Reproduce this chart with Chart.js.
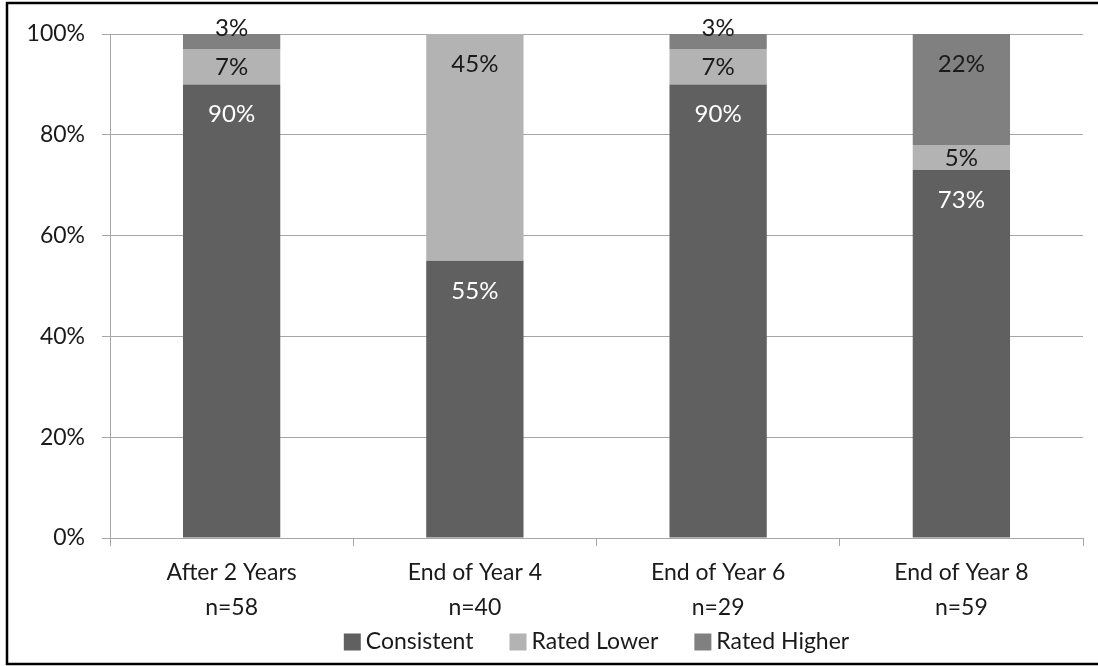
<!DOCTYPE html>
<html>
<head>
<meta charset="utf-8">
<script src="https://cdn.jsdelivr.net/npm/chart.js@4.4.1/dist/chart.umd.min.js"></script>
<style>
  html, body { margin: 0; padding: 0; background: #fff; }
  #wrap { width: 1098px; height: 666px; position: relative; }
</style>
</head>
<body>
<div id="wrap"><canvas id="chart" width="1098" height="666"></canvas></div>
<script>
// Rating consistency across review points (percent of respondents)
const categories = ['After 2 Years', 'End of Year 4', 'End of Year 6', 'End of Year 8'];
const sampleSizes = [58, 40, 29, 59];
const consistent = [90, 55, 90, 73];
const ratedLower = [7, 45, 7, 5];
const ratedHigher = [3, 0, 3, 22];
const yTicks = [0, 20, 40, 60, 80, 100];

const FONT = 'Lato, "Open Sans", sans-serif';
const TEXT = '#1a1a1a';
const GRID = '#a6a6a6';

const seriesColors = ['#606060', '#b3b3b3', '#808080'];
const labelColors = ['#ffffff', TEXT, TEXT];

// Value labels at the inner end of each stacked segment
const segmentLabels = {
  id: 'segmentLabels',
  afterDatasetsDraw(chart) {
    const ctx = chart.ctx;
    ctx.save();
    ctx.font = '24px ' + FONT;
    ctx.textAlign = 'center';
    ctx.textBaseline = 'middle';
    chart.data.datasets.forEach((ds, di) => {
      const meta = chart.getDatasetMeta(di);
      meta.data.forEach((bar, i) => {
        const v = ds.data[i];
        if (!v) return;
        const top = bar.y, base = bar.base;
        const h = base - top;
        let cy;
        if (h >= 60) cy = top + 30;
        else if (h >= 20) cy = (top + base) / 2 + 1;
        else cy = top - 6;
        ctx.fillStyle = h < 20 ? TEXT : labelColors[di];
        ctx.fillText(v + '%', bar.x, cy);
      });
    });
    ctx.restore();
  }
};

// Legend row and outer frame
const legendAndFrame = {
  id: 'legendAndFrame',
  afterDraw(chart) {
    const ctx = chart.ctx;
    ctx.save();
    ctx.font = '23px ' + FONT;
    ctx.textBaseline = 'middle';
    const box = 17, gapBox = 5, gapItem = 36;
    const items = chart.data.datasets.map(ds => ({ label: ds.label, color: ds.backgroundColor }));
    const widths = items.map(it => box + gapBox + ctx.measureText(it.label).width);
    const total = widths.reduce((a, b) => a + b, 0) + gapItem * (items.length - 1);
    const area = chart.chartArea;
    let x = (area.left + area.right) / 2 - total / 2;
    const y = 642;
    items.forEach((it, k) => {
      ctx.fillStyle = it.color;
      ctx.fillRect(x, y - box / 2, box, box);
      ctx.fillStyle = TEXT;
      ctx.textAlign = 'left';
      ctx.fillText(it.label, x + box + gapBox, y);
      x += widths[k] + gapItem;
    });
    ctx.strokeStyle = '#000';
    ctx.lineWidth = 2.5;
    ctx.strokeRect(7, 3, 1110, 661);
    ctx.restore();
  }
};

const white = {
  id: 'white',
  beforeDraw(chart) {
    const ctx = chart.ctx;
    ctx.save();
    ctx.fillStyle = '#fff';
    ctx.fillRect(0, 0, chart.width, chart.height);
    ctx.restore();
  }
};

new Chart(document.getElementById('chart'), {
  type: 'bar',
  data: {
    labels: categories.map((c, i) => [c, 'n=' + sampleSizes[i]]),
    datasets: [
      { label: 'Consistent', data: consistent, backgroundColor: seriesColors[0] },
      { label: 'Rated Lower', data: ratedLower, backgroundColor: seriesColors[1] },
      { label: 'Rated Higher', data: ratedHigher, backgroundColor: seriesColors[2] }
    ]
  },
  options: {
    responsive: false,
    animation: false,
    devicePixelRatio: 1,
    layout: { padding: { left: 0, right: 15, top: 34, bottom: 0 } },
    datasets: { bar: { categoryPercentage: 0.4, barPercentage: 1.0 } },
    plugins: {
      legend: { display: false },
      tooltip: { enabled: false }
    },
    scales: {
      x: {
        stacked: true,
        grid: { display: true, offset: true, drawOnChartArea: false, color: GRID, tickLength: 8, tickColor: GRID },
        border: { display: true, color: GRID, width: 1 },
        ticks: {
          color: TEXT,
          font: { family: FONT, size: 23, lineHeight: 1.53 },
          padding: 9,
          maxRotation: 0,
          autoSkip: false
        },
        afterFit(scale) { scale.height = 128; }
      },
      y: {
        stacked: true,
        min: 0,
        max: 100,
        afterBuildTicks(scale) { scale.ticks = yTicks.map(v => ({ value: v })); },
        grid: { color: GRID, tickLength: 8, tickColor: GRID, lineWidth: 1 },
        border: { display: true, color: GRID, width: 1 },
        ticks: {
          color: TEXT,
          font: { family: FONT, size: 23 },
          padding: 17,
          callback: v => v + '%'
        },
        afterFit(scale) { scale.width = 110; }
      }
    }
  },
  plugins: [white, segmentLabels, legendAndFrame]
});
</script>
</body>
</html>
